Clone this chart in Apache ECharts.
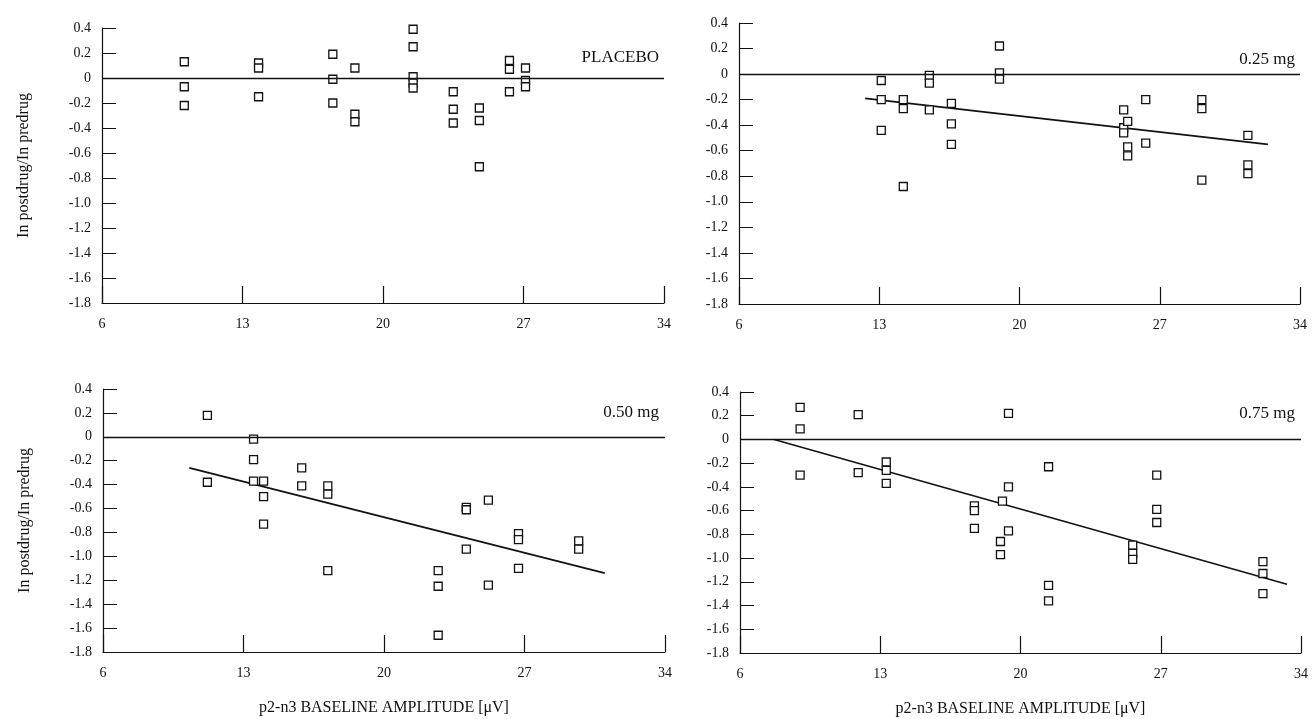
<!DOCTYPE html>
<html>
<head>
<meta charset="utf-8">
<title>ln postdrug / ln predrug vs baseline amplitude</title>
<script src="https://cdn.jsdelivr.net/npm/echarts@6/dist/echarts.min.js"></script>
<style>
    html, body {margin: 0; padding: 0; background: #fff;}
    #chart {width: 1314px; height: 719px;}
</style>
</head>
<body>
<div id="chart"></div>
<script>
// x ticks and y ticks
var xTicks = [6, 13, 20, 27, 34];
var yTicks = [0.4, 0.2, 0, -0.2, -0.4, -0.6, -0.8, -1.0, -1.2, -1.4, -1.6, -1.8];

// [baseline amplitude, ln ratio]
var placeboPts = [
    [10.1, 0.13], [10.1, -0.07], [10.1, -0.22],
    [13.8, 0.12], [13.8, 0.08], [13.8, -0.15],
    [17.5, 0.19], [17.5, -0.01], [17.5, -0.2],
    [18.6, 0.08], [18.6, -0.29], [18.6, -0.35],
    [21.5, 0.39], [21.5, 0.25], [21.5, 0.01], [21.5, -0.04], [21.5, -0.08],
    [23.5, -0.11], [23.5, -0.25], [23.5, -0.36],
    [24.8, -0.24], [24.8, -0.34], [24.8, -0.71],
    [26.3, 0.14], [26.3, 0.07], [26.3, -0.11],
    [27.1, 0.08], [27.1, -0.02], [27.1, -0.07]
];
var dose025Pts = [
    [13.1, -0.05], [13.1, -0.2], [13.1, -0.44],
    [14.2, -0.2], [14.2, -0.27], [14.2, -0.88],
    [15.5, -0.01], [15.5, -0.07], [15.5, -0.28],
    [16.6, -0.23], [16.6, -0.39], [16.6, -0.55],
    [19.0, 0.22], [19.0, 0.01], [19.0, -0.04],
    [25.2, -0.28], [25.2, -0.42], [25.2, -0.46],
    [25.4, -0.37], [25.4, -0.57], [25.4, -0.64],
    [26.3, -0.2], [26.3, -0.54],
    [29.1, -0.2], [29.1, -0.27], [29.1, -0.83],
    [31.4, -0.48], [31.4, -0.71], [31.4, -0.78]
];
var dose050Pts = [
    [11.2, 0.18], [11.2, -0.38],
    [13.5, -0.02], [13.5, -0.19], [13.5, -0.37],
    [14.0, -0.37], [14.0, -0.5], [14.0, -0.73],
    [15.9, -0.26], [15.9, -0.41],
    [17.2, -0.41], [17.2, -0.48], [17.2, -1.12],
    [22.7, -1.12], [22.7, -1.25], [22.7, -1.66],
    [24.1, -0.59], [24.1, -0.61], [24.1, -0.94],
    [25.2, -0.53], [25.2, -1.24],
    [26.7, -0.81], [26.7, -0.86], [26.7, -1.1],
    [29.7, -0.87], [29.7, -0.94]
];
var dose075Pts = [
    [9.0, 0.27], [9.0, 0.09], [9.0, -0.3],
    [11.9, 0.21], [11.9, -0.28],
    [13.3, -0.19], [13.3, -0.26], [13.3, -0.37],
    [17.7, -0.56], [17.7, -0.6], [17.7, -0.75],
    [19.0, -0.86], [19.0, -0.97],
    [19.1, -0.52],
    [19.4, 0.22], [19.4, -0.4], [19.4, -0.77],
    [21.4, -0.23], [21.4, -1.23], [21.4, -1.36],
    [25.6, -0.89], [25.6, -0.96], [25.6, -1.01],
    [26.8, -0.3], [26.8, -0.59], [26.8, -0.7],
    [32.1, -1.03], [32.1, -1.13], [32.1, -1.3]
];

// regression lines (end points)
var fit025 = [[12.3, -0.19], [32.4, -0.55]];
var fit050 = [[10.3, -0.26], [31.0, -1.14]];
var fit075 = [[7.7, 0], [33.3, -1.22]];

var panelLabels = ['PLACEBO', '0.25 mg', '0.50 mg', '0.75 mg'];
var yTitle = 'In postdrug/In predrug';
var xTitle = 'p2-n3 BASELINE AMPLITUDE [\u03bcV]';

var font = 'Liberation Serif';
var black = '#111';

var grids = [
    {left: 102, top: 28, width: 562, height: 275},
    {left: 739, top: 23, width: 561, height: 281},
    {left: 103, top: 389, width: 562, height: 263},
    {left: 740, top: 392, width: 561, height: 261}
];

function makeX(i) {
    var bottom = i >= 2;
    return {
        gridIndex: i,
        type: 'value',
        min: xTicks[0],
        max: xTicks[xTicks.length - 1],
        interval: 7,
        name: bottom ? xTitle : '',
        nameLocation: 'middle',
        nameGap: 48,
        nameTextStyle: {fontFamily: font, fontSize: 16, color: black},
        axisLine: {onZero: false, lineStyle: {color: black, width: 1.2}},
        axisTick: {inside: true, length: 17, lineStyle: {color: black, width: 1.2}},
        axisLabel: {fontFamily: font, fontSize: 14, color: black, margin: 14},
        splitLine: {show: false}
    };
}

function makeY(i) {
    var left = i % 2 == 0;
    return {
        gridIndex: i,
        type: 'value',
        min: yTicks[yTicks.length - 1],
        max: yTicks[0],
        interval: 0.2,
        name: left ? yTitle : '',
        nameLocation: 'middle',
        nameGap: 70,
        nameTextStyle: {fontFamily: font, fontSize: 16, color: black},
        axisLine: {show: true, onZero: false, lineStyle: {color: black, width: 1.2}},
        axisTick: {inside: true, length: 14, lineStyle: {color: black, width: 1}},
        axisLabel: {
            fontFamily: font, fontSize: 14, color: black, margin: 11,
            formatter: function (v) {
                if (Math.abs(v) < 1e-9) return '0';
                return v.toFixed(1);
            }
        },
        splitLine: {show: false}
    };
}

function scatter(i, pts) {
    return {
        type: 'scatter',
        xAxisIndex: i,
        yAxisIndex: i,
        data: pts,
        symbol: 'rect',
        symbolSize: 8,
        itemStyle: {color: '#fff', borderColor: black, borderWidth: 1.3, opacity: 1},
        markLine: {//zero reference line
            silent: true,
            symbol: 'none',
            label: {show: false},
            lineStyle: {color: black, type: 'solid', width: 1.3},
            data: [{yAxis: 0}]
        },
        z: 3
    };
}

function fitLine(i, pts) {
    return {
        type: 'line',
        xAxisIndex: i,
        yAxisIndex: i,
        data: pts,
        symbol: 'none',
        lineStyle: {color: black, width: 1.6},
        z: 2
    };
}

var titlePos = [
    {right: 1314 - 659, top: 49},
    {right: 1314 - 1295, top: 51},
    {right: 1314 - 659, top: 404},
    {right: 1314 - 1295, top: 405}
];

var myChart = echarts.init(document.getElementById('chart'));
var option = {
    backgroundColor: '#fff',
    animation: false,
    title: panelLabels.map(function (t, i) {
        return {
            text: t,
            right: titlePos[i].right,
            top: titlePos[i].top,
            padding: 0,
            textStyle: {fontFamily: font, fontSize: 17, fontWeight: 'normal', color: black}
        };
    }),
    grid: grids,
    xAxis: [makeX(0), makeX(1), makeX(2), makeX(3)],
    yAxis: [makeY(0), makeY(1), makeY(2), makeY(3)],
    series: [
        scatter(0, placeboPts),
        scatter(1, dose025Pts),
        scatter(2, dose050Pts),
        scatter(3, dose075Pts),
        fitLine(1, fit025),
        fitLine(2, fit050),
        fitLine(3, fit075)
    ]
};
myChart.setOption(option, true);
</script>
</body>
</html>
